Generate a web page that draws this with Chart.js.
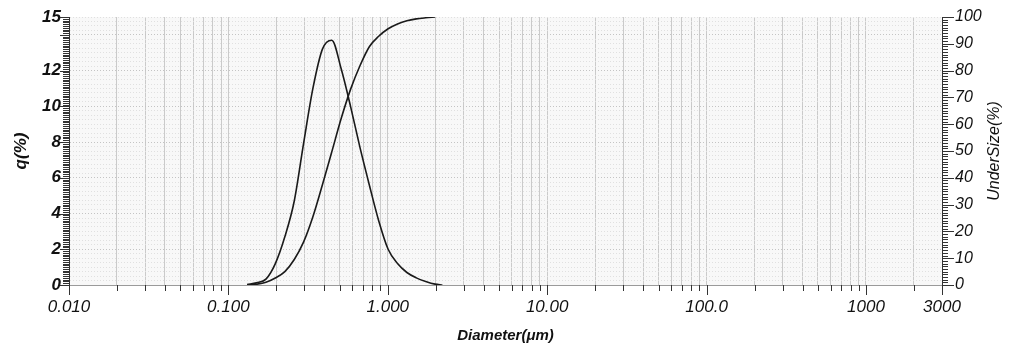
<!DOCTYPE html>
<html><head><meta charset="utf-8">
<script src="https://cdn.jsdelivr.net/npm/chart.js@4/dist/chart.umd.min.js"></script>
<style>html,body{margin:0;padding:0;background:#fff;}#wrap{width:1010px;height:349px;}</style>
</head><body><div id="wrap"><canvas id="c" width="1010" height="349"></canvas></div>
<script>
// ---- data ----
const diameters = [0.131,0.150,0.172,0.197,0.226,0.259,0.296,0.339,0.389,0.445,0.510,0.584,0.669,0.766,0.877,1.005,1.151,1.318,1.510,1.729,1.981,2.200];
const qValues   = [0.03,0.12,0.33,1.2,2.7,4.7,7.9,11.0,13.2,13.7,12.1,10.0,7.7,5.6,3.6,2.0,1.2,0.7,0.4,0.2,0.05,0];
const underSize = [0,0.3,1.0,2.6,5.0,9.5,16.0,25.5,37.4,49.6,62.1,73.0,81.8,88.9,92.8,95.6,97.4,98.6,99.3,99.7,100,null];
const xTickValues = [0.01,0.1,1,10,100,1000,3000];
const xTickLabels = ['0.010','0.100','1.000','10.00','100.0','1000','3000'];
const leftTickValues = [0,2,4,6,8,10,12,15];
const leftTickLabels = ['0','2','4','6','8','10','12','15'];
const rightTickValues = [0,10,20,30,40,50,60,70,80,90,100];
const xTitle = 'Diameter(μm)';
const leftTitle = 'q(%)';
const rightTitle = 'UnderSize(%)';

const FONT = '"Liberation Sans", Arial, sans-serif';
function xLabelFor(v){
  for (let i=0;i<xTickValues.length;i++) if (Math.abs(v/xTickValues[i]-1)<1e-6) return xTickLabels[i];
  return '';
}
function isDecade(v){ return xLabelFor(v)!==''; }

const deco = {
  id:'deco',
  beforeDraw(chart){
    const {ctx, chartArea:a} = chart;
    ctx.save(); ctx.fillStyle='#f8f8f8';
    ctx.fillRect(a.left,a.top,a.right-a.left,a.bottom-a.top); ctx.restore();
  },
  afterDraw(chart){
    const {ctx, chartArea:a, scales} = chart;
    ctx.save();
    ctx.strokeStyle='#333'; ctx.lineWidth=1;
    for (let i=0;i<=150;i++){
      const v=i/10; const py=Math.round(scales.y.getPixelForValue(v))+0.5;
      const len=(i%20===0||i===150)?9:6;
      ctx.beginPath(); ctx.moveTo(a.left-len,py); ctx.lineTo(a.left,py); ctx.stroke();
    }
    for (let i=0;i<=100;i++){
      const py=Math.round(scales.y2.getPixelForValue(i))+0.5;
      const len=(i%10===0)?12:6;
      ctx.beginPath(); ctx.moveTo(a.right,py); ctx.lineTo(a.right+len,py); ctx.stroke();
    }
    scales.x.ticks.forEach(t=>{
      const px=Math.round(scales.x.getPixelForValue(t.value))+0.5;
      const len=isDecade(t.value)?10:6;
      ctx.beginPath(); ctx.moveTo(px,a.bottom); ctx.lineTo(px,a.bottom+len); ctx.stroke();
    });
    ctx.fillStyle='#111'; ctx.textAlign='center'; ctx.textBaseline='middle';
    ctx.font='italic bold 15px '+FONT;
    ctx.fillText(xTitle,(a.left+a.right)/2,336);
    ctx.save(); ctx.translate(21,(a.top+a.bottom)/2); ctx.rotate(-Math.PI/2);
    ctx.font='italic bold 17px '+FONT; ctx.fillText(leftTitle,0,0); ctx.restore();
    ctx.save(); ctx.translate(995,(a.top+a.bottom)/2); ctx.rotate(-Math.PI/2);
    ctx.font='italic 16px '+FONT; ctx.fillText(rightTitle,0,0); ctx.restore();
    ctx.restore();
  }
};

function noPad(s){ s.paddingTop=0; s.paddingBottom=0; }

new Chart(document.getElementById('c'), {
  type:'line',
  data:{ datasets:[
    { label:'q', data: diameters.map((d,i)=>({x:d,y:qValues[i]})), yAxisID:'y',
      borderColor:'#1a1a1a', borderWidth:1.6, pointRadius:0, cubicInterpolationMode:'monotone', fill:false },
    { label:'UnderSize', data: diameters.map((d,i)=>({x:d,y:underSize[i]})), yAxisID:'y2',
      borderColor:'#1a1a1a', borderWidth:1.6, pointRadius:0, cubicInterpolationMode:'monotone', fill:false }
  ]},
  options:{
    responsive:false, animation:false, events:[],
    layout:{ padding:{ top:17, left:0, right:0, bottom:0 } },
    plugins:{ legend:{display:false}, tooltip:{enabled:false} },
    scales:{
      x:{ type:'logarithmic', min:0.01, max:3000,
        afterBuildTicks(s){ const t=[]; [0.01,0.1,1,10,100,1000].forEach(d=>{ for(let m=1;m<=9;m++){ const v=+(m*d).toPrecision(6); if(v<=3000) t.push({value:v}); } }); s.ticks=t; },
        afterFit(s){ s.height=64; s.paddingLeft=0; s.paddingRight=0; },
        grid:{ color:'#cacaca', lineWidth:1, drawTicks:false },
        border:{ display:true, color:'#9a9a9a' },
        ticks:{ autoSkip:false, maxRotation:0, padding:12, color:'#111', font:{family:FONT, size:17, style:'italic'},
          callback:(v)=>xLabelFor(v) }
      },
      y:{ position:'left', min:0, max:15,
        afterBuildTicks(s){ const t=[]; for(let i=0;i<=60;i++) t.push({value:i/4}); s.ticks=t; },
        afterFit(s){ s.width=69; noPad(s); },
        grid:{ color:(c)=> (c.tick && c.tick.value%2===0) ? '#c4c4c4' : '#e0e0e0', lineWidth:1, drawTicks:false },
        border:{ display:true, color:'#333', dash:[1,2] },
        ticks:{ autoSkip:false, padding:8, color:'#111', font:{family:FONT, size:17, style:'italic', weight:'bold'},
          callback:(v)=>{ const i=leftTickValues.indexOf(v); return i>=0?leftTickLabels[i]:''; } }
      },
      y2:{ position:'right', min:0, max:100,
        afterBuildTicks(s){ s.ticks=rightTickValues.map(v=>({value:v})); },
        afterFit(s){ s.width=68; noPad(s); },
        grid:{ drawOnChartArea:false, drawTicks:false },
        border:{ display:true, color:'#333' },
        ticks:{ autoSkip:false, padding:13, color:'#111', font:{family:FONT, size:16, style:'italic'} }
      }
    }
  },
  plugins:[deco]
});
</script></body></html>
